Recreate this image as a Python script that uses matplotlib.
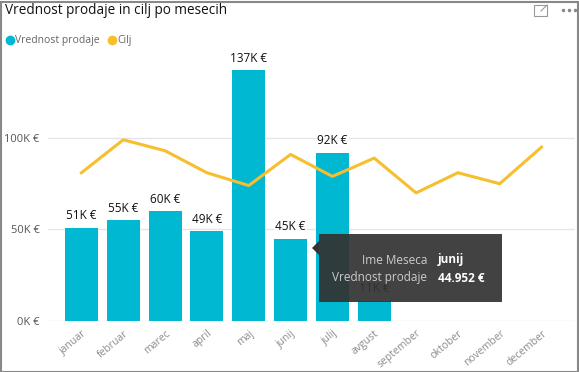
import matplotlib.pyplot as plt
from matplotlib.lines import Line2D
from matplotlib.patches import Rectangle, Polygon

plt.rcParams['font.family'] = ['Open Sans', 'DejaVu Sans']

months = ["januar", "februar", "marec", "april", "maj", "junij", "julij",
          "avgust", "september", "oktober", "november", "december"]
sales = [51, 55, 60, 49, 137, 44.952, 92, 11]          # thousands of EUR
sales_labels = ["51K €", "55K €", "60K €", "49K €", "137K €", "45K €", "92K €", "11K €"]
target = [81, 99, 93, 81, 74, 91, 79, 89, 70, 81, 75, 95]
yticks = [0, 50, 100]
ytick_labels = ["0K €", "50K €", "100K €"]

bar_color = "#01B8D3"
line_color = "#F7BE2E"

W, H = 579, 372
fig = plt.figure(figsize=(W / 100, H / 100), dpi=100)
ax = fig.add_axes([48 / W, (H - 321) / H, (575 - 48) / W, (321 - 62) / H])

x = list(range(len(months)))
ax.bar(x[:len(sales)], sales, width=0.79, color=bar_color, zorder=2)
ax.plot(x, target, color=line_color, lw=2.2, zorder=3)

for i, (v, lab) in enumerate(zip(sales, sales_labels)):
    ax.text(i, v + 3, lab, ha="center", va="bottom", fontsize=8.5, color="#111111",
            zorder=4, bbox=dict(boxstyle="square,pad=0.15", fc="white", ec="none", alpha=0.7))

ax.set_xlim(-0.8, 11.8)
ax.set_ylim(0, 141.5)
ax.set_yticks(yticks)
ax.set_yticklabels(ytick_labels, fontsize=8, color="#555555")
ax.set_xticks(x)
ax.set_xticklabels(months, rotation=40, ha="right", rotation_mode="anchor",
                   fontsize=7.5, color="#8c8c8c")
ax.tick_params(axis="x", length=0, pad=5)
ax.tick_params(axis="y", length=0, pad=6)
ax.grid(axis="y", color="#e6e6e6", lw=1, zorder=0)
for s in ax.spines.values():
    s.set_visible(False)

# title and legend
fig.text(5 / W, 1 - 11 / H, "Vrednost prodaje in cilj po mesecih", fontsize=9.8,
         color="#111111", va="center", ha="left")
handles = [Line2D([], [], marker="o", ls="none", color=bar_color, markersize=6),
           Line2D([], [], marker="o", ls="none", color=line_color, markersize=6)]
fig.legend(handles, ["Vrednost prodaje", "Cilj"], loc="center left",
           bbox_to_anchor=(0, 1 - 41 / H), frameon=False, fontsize=7.5,
           labelcolor="#666666", handletextpad=-0.3, columnspacing=0.5, ncol=2,
           borderaxespad=0, borderpad=0.2, handlelength=1.5)

# header icons
fig.add_artist(Rectangle((534 / W, 1 - 16 / H), 13 / W, 11 / H,
                         transform=fig.transFigure, fill=False, ec="#999999", lw=0.8))
fig.add_artist(Line2D([541 / W, 547 / W], [1 - 11 / H, 1 - 5 / H],
                      transform=fig.transFigure, color="#999999", lw=0.8))
for dx in (563, 569, 575):
    fig.add_artist(Line2D([dx / W], [1 - 10 / H], transform=fig.transFigure,
                          marker="o", markersize=1.5, color="#888888", ls="none"))

# tooltip
tip = fig.transFigure
fig.add_artist(Rectangle((319 / W, 1 - 302 / H), 183 / W, 68 / H,
                         transform=tip, fc="#333333", ec="none", alpha=0.93, zorder=10))
fig.add_artist(Polygon([(312 / W, 1 - 248 / H), (319 / W, 1 - 241 / H),
                        (319 / W, 1 - 255 / H)], closed=True,
                       transform=tip, fc="#333333", ec="none", zorder=10))
fig.text(427 / W, 1 - 260 / H, "Ime Meseca", fontsize=8.5, color="#cccccc",
         ha="right", va="center", zorder=11)
fig.text(427 / W, 1 - 278 / H, "Vrednost prodaje", fontsize=8.5, color="#cccccc",
         ha="right", va="center", zorder=11)
fig.text(438 / W, 1 - 260 / H, "junij", fontsize=8.5, color="white",
         fontweight="bold", ha="left", va="center", zorder=11)
fig.text(438 / W, 1 - 278 / H, "44.952 €", fontsize=8.5, color="white",
         fontweight="bold", ha="left", va="center", zorder=11)

# outer border
fig.add_artist(Rectangle((0.5 / W, 0.5 / H), 577 / W, 370 / H,
                         transform=fig.transFigure, fill=False, ec="#888888", lw=1.5))

fig.savefig("out.png", dpi=100)
